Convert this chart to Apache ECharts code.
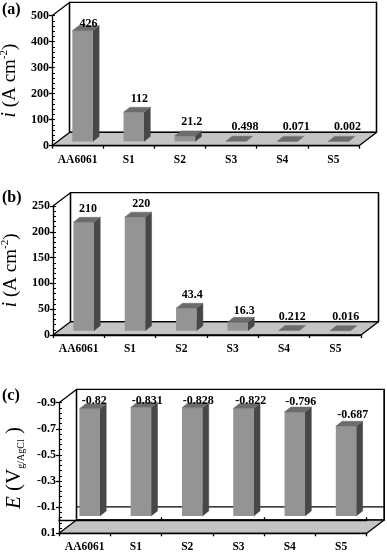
<!DOCTYPE html>
<html><head><meta charset="utf-8">
<style>html,body{margin:0;padding:0;background:#fff}#c{width:387px;height:552px}</style>
<script src="https://cdn.jsdelivr.net/npm/echarts@6/dist/echarts.min.js"></script>
</head><body><div id="c"></div>
<script>
const categories = ['AA6061','S1','S2','S3','S4','S5'];
const valuesA = [426,112,21.2,0.498,0.071,0.002];
const valuesB = [210,220,43.4,16.3,0.212,0.016];
const valuesC = [-0.82,-0.831,-0.828,-0.822,-0.796,-0.687];
const ticksC = [-0.9,-0.7,-0.5,-0.3,-0.1,0.1];
const minorA = [], minorB = [], minorC = [];
for (let i = 0; i <= 25; i++) { minorA.push(i * 20); minorB.push(i * 10); minorC.push(+(-0.9 + i * 0.04).toFixed(2)); }
// fine placement of the value labels (px)
const nudgeA = [6,5.6,6.9,9,9,9],     liftA = [2,8.6,8.6,9.3,9.3,9.3];
const nudgeB = [4.3,6.3,6,6.6,3.3,5.4], liftB = [8.3,8.2,8.3,6.3,8.9,8.9];
const nudgeC = [4.7,6.4,6.1,7.2,5.9,6.6], liftC = [3.3,1.9,2.3,3.1,5.4,6.3];

const SERIF = '"Liberation Serif","Times New Roman",serif';
const DX = 17.5, DY = 13.3;             // depth of the box
const BAR_W = 20.5, BAR_DX = 6.3, BAR_DY = 5, BAR_SHIFT = 5, BAR_LIFT = 4.3;
const FRONT = '#949494', SIDE = '#474747', TOP = '#6c6c6c', FLOOR = '#c4c4c4', INK = '#000';
const lineSt = {stroke: INK, lineWidth: 1.3, fill: null};
function seg(x1,y1,x2,y2){return {type:'line',shape:{x1,y1,x2,y2},style:lineSt};}
function poly(points,fill,stroke){return {type:'polygon',shape:{points},style:{fill,stroke:stroke||fill,lineWidth:stroke?1.3:0.5}};}

function renderBox(params, api){
  const s = params.coordSys, L = s.x, T = s.y, R = s.x + s.width, B = s.y + s.height;
  const zeroY = api.coord([0, 0])[1] - DY;
  return {type:'group', children:[
    {type:'rect',shape:{x:L+DX,y:T-DY,width:s.width,height:s.height},style:{fill:'#fff',stroke:INK,lineWidth:1.3}},
    poly([[L,B],[L+DX,B-DY],[R+DX,B-DY],[R,B]],FLOOR),
    seg(L+DX,T-DY,L+DX,B-DY), seg(R+DX,T-DY,R+DX,B-DY), seg(L+DX,B-DY,R+DX,B-DY),
    seg(L+DX,zeroY,R+DX,zeroY),
    seg(L,T,L+DX,T-DY), seg(L,B,L+DX,B-DY), seg(R,B,R+DX,B-DY), seg(L,B,R,B)
  ]};
}
function renderBar(params, api){
  const top = api.coord([api.value(0), api.value(1)]);
  const base = api.coord([api.value(0), 0]);
  const x0 = top[0] + BAR_SHIFT - BAR_W/2, x1 = x0 + BAR_W;
  const yB = base[1] - BAR_LIFT, yT = top[1] - BAR_LIFT;
  const kids = [];
  if (yB - yT > 0.6) {
    kids.push(poly([[x1,yT],[x1+BAR_DX,yT-BAR_DY],[x1+BAR_DX,yB-BAR_DY],[x1,yB]],SIDE));
    kids.push({type:'rect',shape:{x:x0,y:yT,width:BAR_W,height:yB-yT},style:{fill:FRONT}});
  }
  kids.push(poly([[x0,yT],[x0+BAR_DX,yT-BAR_DY],[x1+BAR_DX,yT-BAR_DY],[x1,yT]],TOP));
  kids.push({type:'text',style:{text:api.value(2)+'',x:x0+BAR_W/2+api.value(3),y:yT-BAR_DY-api.value(4),
    align:'center',verticalAlign:'middle',font:'bold 12px '+SERIF,fill:'#000'},z2:10});
  return {type:'group',children:kids};
}
function table(vals,nudge,lift){return vals.map((v,i)=>[categories[i],v,v,nudge[i],lift[i]]);}
function boxSeries(i){return {type:'custom',coordinateSystem:'cartesian2d',xAxisIndex:i,yAxisIndex:i*2,z:1,clip:false,silent:true,
  data:[[categories[0],0]],encode:{x:0,y:1},renderItem:renderBox};}
function barSeries(i,data){return {type:'custom',coordinateSystem:'cartesian2d',xAxisIndex:i,yAxisIndex:i*2,z:3,clip:false,silent:true,
  data,encode:{x:0,y:1},renderItem:renderBar};}

const lab = {fontFamily:SERIF,fontWeight:'bold',fontSize:12,color:'#000'};
const axisLine = {show:true,lineStyle:{color:INK,width:1.3}};
function xAxis(g,extra){return Object.assign({type:'category',gridIndex:g,data:categories,z:5,
  axisLine:Object.assign({onZero:false},axisLine),
  axisTick:{show:true,alignWithLabel:false,length:3,lineStyle:{color:INK,width:1.3}},
  axisLabel:{fontFamily:SERIF,fontWeight:'bold',fontSize:11.5,color:'#000',margin:8,interval:0},splitLine:{show:false}},extra||{});}
function major(g,min,max,interval,name,gap,extra){return Object.assign({type:'value',gridIndex:g,min,max,interval,z:5,
  axisLine,axisTick:{show:true,length:3,lineStyle:{color:INK,width:1.3}},
  axisLabel:Object.assign({margin:3},lab),splitLine:{show:false},
  name,nameLocation:'middle',nameGap:gap,nameRotate:90,
  nameTextStyle:{fontFamily:SERIF,fontSize:19,color:'#000',rich:{
    it:{fontFamily:SERIF,fontStyle:'italic',fontSize:21,color:'#000'},
    rm:{fontFamily:SERIF,fontSize:19,color:'#000'},
    sup:{fontFamily:SERIF,fontSize:11,color:'#000',verticalAlign:'top',lineHeight:20},
    big:{fontFamily:SERIF,fontSize:21,color:'#000'},
    bi:{fontFamily:SERIF,fontStyle:'italic',fontSize:21,color:'#000'},
    sub:{fontFamily:SERIF,fontSize:10,color:'#000',verticalAlign:'bottom',lineHeight:24}
  }}},extra||{});}
function minor(g,min,max,interval,vals,extra){return Object.assign({type:'value',gridIndex:g,min,max,interval,position:'left',z:5,
  axisLine:{show:false},axisLabel:{show:false},splitLine:{show:false},
  axisTick:{show:true,inside:true,length:3,customValues:vals,lineStyle:{color:INK,width:1}}},extra||{});}

const iName = '{it|i}{rm| (A cm}{sup|-2}{rm|)}';
const eName = '{bi|E}{big| (V}{sub|g/AgCl}{big| )}';

const option = {
  animation:false, backgroundColor:'#fff',
  graphic:[['(a)',9],['(b)',197],['(c)',395]].map(p=>({type:'text',left:2,top:p[1]-7,
    style:{text:p[0],font:'bold 16px '+SERIF,fill:'#000'}})),
  grid:[
    {left:52,top:15.7,width:307,height:130,outerBoundsMode:'none'},
    {left:53,top:206,width:308,height:129,outerBoundsMode:'none'},
    {left:59,top:402.7,width:307.7,height:130.6,outerBoundsMode:'none'}
  ],
  xAxis:[
    xAxis(0), xAxis(1), xAxis(2),
    xAxis(2,{axisLine:Object.assign({onZero:true,onZeroAxisIndex:4},axisLine),axisLabel:{show:false}})
  ],
  yAxis:[
    major(0,0,500,100,iName,29), minor(0,0,500,100,minorA),
    major(1,0,250,50,iName,29), minor(1,0,250,50,minorB),
    major(2,-0.9,0.1,0.1,eName,33,{inverse:true,
      axisLabel:Object.assign({margin:3,customValues:ticksC},lab),
      axisTick:{show:true,length:3,customValues:ticksC,lineStyle:{color:INK,width:1.3}}}),
    minor(2,-0.9,0.1,0.1,minorC,{inverse:true})
  ],
  series:[
    boxSeries(0), barSeries(0,table(valuesA,nudgeA,liftA)),
    boxSeries(1), barSeries(1,table(valuesB,nudgeB,liftB)),
    boxSeries(2), barSeries(2,table(valuesC,nudgeC,liftC))
  ]
};
echarts.init(document.getElementById('c'),null,{renderer:'canvas'}).setOption(option);
</script></body></html>
